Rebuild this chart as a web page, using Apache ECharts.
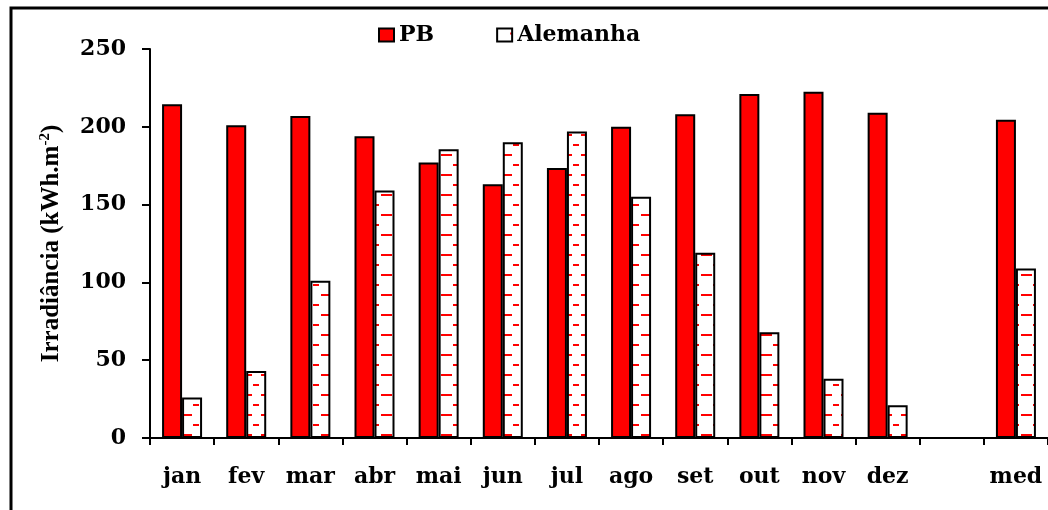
<!DOCTYPE html>
<html>
<head>
<meta charset="utf-8">
<script src="https://cdn.jsdelivr.net/npm/echarts@6/dist/echarts.min.js"></script>
<style>
  html, body { margin: 0; padding: 0; background: #fff; }
  #chart { width: 1048px; height: 510px; }
</style>
</head>
<body>
<div id="chart"></div>
<script>
// dados
var meses = ['jan', 'fev', 'mar', 'abr', 'mai', 'jun', 'jul', 'ago', 'set', 'out', 'nov', 'dez', '', 'med'];
var pb = [214.5, 201, 207, 194, 177, 163, 173.5, 200, 208, 221, 222.5, 209, '-', 204.5];
var alemanha = [26, 43, 101, 159, 185.5, 190, 197, 155, 119, 68, 38, 21, '-', 109];
var yTicks = [0, 50, 100, 150, 200, 250];

var fonte = '"DejaVu Serif", "Liberation Serif", serif';
var fonteTitulo = '"Liberation Serif", "Times New Roman", serif';

// textura tracejada vermelha das barras da Alemanha
function textura() {
    var c = document.createElement('canvas');
    c.width = 20;
    c.height = 20;
    var ctx = c.getContext('2d');
    ctx.fillStyle = '#fff';
    ctx.fillRect(0, 0, 20, 20);
    ctx.fillStyle = '#ff0000';
    ctx.fillRect(13, 4, 6, 2);   // traço curto à direita
    ctx.fillRect(1, 14, 11, 2);  // traço longo à esquerda
    return c;
}

var myChart = echarts.init(document.getElementById('chart'), null, {renderer: 'canvas'});

myChart.setOption({
    animation: false,
    textStyle: {fontFamily: fonte},
    graphic: [{
        type: 'rect',
        shape: {x: 11, y: 8, width: 1100, height: 600},
        style: {fill: 'none', stroke: '#000', lineWidth: 3},
        silent: true
    }],
    legend: {
        left: 378,
        top: 24,
        padding: 0,
        icon: 'rect',
        itemWidth: 15,
        itemHeight: 13,
        itemGap: 62,
        textStyle: {fontFamily: fonte, fontWeight: 'bold', fontSize: 22, color: '#000'},
        data: ['PB', 'Alemanha']
    },
    grid: {
        left: 150,
        top: 49,
        right: -5,
        bottom: 72,
        containLabel: false
    },
    xAxis: {
        type: 'category',
        data: meses,
        axisLine: {lineStyle: {color: '#000', width: 2}},
        axisTick: {show: true, length: 7, lineStyle: {color: '#000', width: 2}},
        axisLabel: {
            fontFamily: fonte, fontWeight: 'bold', fontSize: 22, color: '#000',
            margin: 28, interval: 0
        }
    },
    yAxis: {
        type: 'value',
        min: 0,
        max: 250,
        interval: 50,
        name: 'Irradiância (kWh.m{sup|-2})',
        nameLocation: 'middle',
        nameRotate: 90,
        nameGap: 84,
        nameTextStyle: {
            fontFamily: fonteTitulo, fontWeight: 'bold', fontSize: 25, color: '#000',
            rich: {
                sup: {fontFamily: fonteTitulo, fontWeight: 'bold', fontSize: 15, color: '#000', padding: [0, 0, 13, 0]}
            }
        },
        splitLine: {show: false},
        axisLine: {show: true, lineStyle: {color: '#000', width: 2}},
        axisTick: {show: true, length: 8, lineStyle: {color: '#000', width: 2}},
        axisLabel: {
            fontFamily: fonte, fontWeight: 'bold', fontSize: 22, color: '#000', margin: 24,
            formatter: function (v) { return yTicks.indexOf(v) >= 0 ? String(v) : ''; }
        }
    },
    series: [{
        name: 'PB',
        type: 'bar',
        data: pb,
        barWidth: 20,
        barGap: '0%',
        itemStyle: {color: '#ff0000', borderColor: '#000', borderWidth: 2}
    }, {
        name: 'Alemanha',
        type: 'bar',
        data: alemanha,
        barWidth: 20,
        itemStyle: {
            color: {image: textura(), repeat: 'repeat'},
            borderColor: '#000',
            borderWidth: 2
        }
    }]
});
</script>
</body>
</html>
